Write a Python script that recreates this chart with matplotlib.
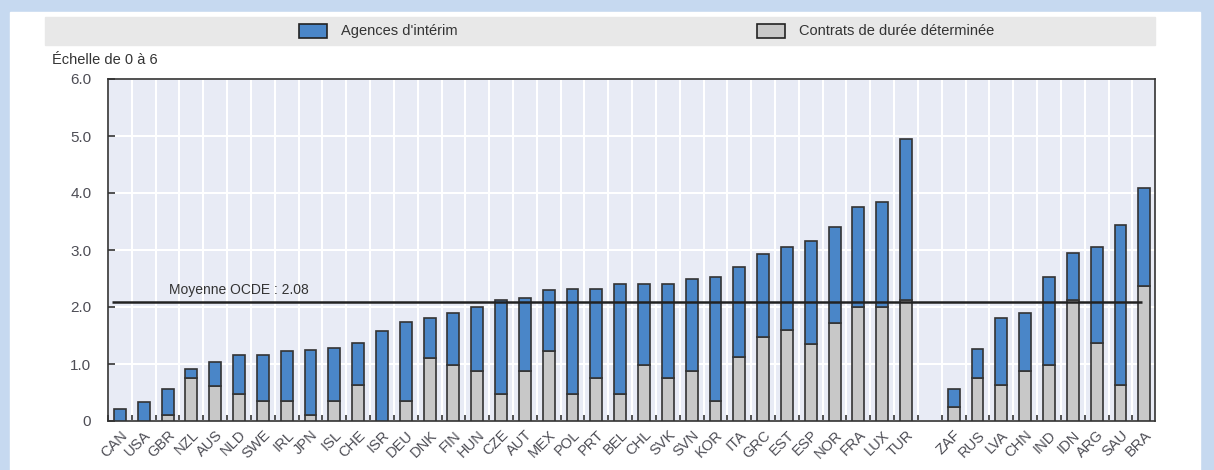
import numpy as np
import matplotlib.pyplot as plt
from matplotlib.patches import Rectangle, Patch

plt.rcParams['font.family'] = ['Liberation Sans Narrow', 'Liberation Sans', 'DejaVu Sans']

# Data (scale 0 to 6)
oecd = ["CAN", "USA", "GBR", "NZL", "AUS", "NLD", "SWE", "IRL", "JPN", "ISL", "CHE",
        "ISR", "DEU", "DNK", "FIN", "HUN", "CZE", "AUT", "MEX", "POL", "PRT", "BEL",
        "CHL", "SVK", "SVN", "KOR", "ITA", "GRC", "EST", "ESP", "NOR", "FRA", "LUX", "TUR"]
oecd_total = [0.21, 0.33, 0.56, 0.91, 1.04, 1.16, 1.16, 1.22, 1.25, 1.28, 1.37,
              1.58, 1.74, 1.80, 1.89, 2.00, 2.13, 2.16, 2.29, 2.32, 2.32, 2.40,
              2.40, 2.40, 2.50, 2.53, 2.71, 2.93, 3.05, 3.16, 3.41, 3.75, 3.84, 4.95]
oecd_fixed = [0.0, 0.0, 0.10, 0.75, 0.61, 0.47, 0.35, 0.35, 0.10, 0.35, 0.63,
              0.0, 0.35, 1.11, 0.99, 0.87, 0.47, 0.87, 1.23, 0.47, 0.75, 0.47,
              0.99, 0.75, 0.87, 0.35, 1.12, 1.48, 1.60, 1.35, 1.72, 2.00, 2.00, 2.13]

others = ["ZAF", "RUS", "LVA", "CHN", "IND", "IDN", "ARG", "SAU", "BRA"]
others_total = [0.57, 1.26, 1.80, 1.89, 2.53, 2.95, 3.05, 3.44, 4.08]
others_fixed = [0.24, 0.76, 0.63, 0.88, 0.99, 2.12, 1.37, 0.63, 2.37]

oecd_mean = 2.08

BLUE = "#4a86c8"
GREY = "#c8c8c8"
TEXT = "#4d4d55"


def main():
    labels = oecd + others
    total = np.array(oecd_total + others_total)
    fixed = np.array(oecd_fixed + others_fixed)
    temp = total - fixed
    pos = np.concatenate([np.arange(len(oecd)), np.arange(len(others)) + len(oecd) + 1])

    fig = plt.figure(figsize=(12.14, 4.70), dpi=100, facecolor="#c6d9f0")
    fig.patches.append(Rectangle((10 / 1214, 0), 1190 / 1214, 458 / 470,
                                 transform=fig.transFigure, color="white", zorder=-2))
    fig.patches.append(Rectangle((45 / 1214, 425 / 470), 1110 / 1214, 28 / 470,
                                 transform=fig.transFigure, color="#e8e8e8", zorder=-1))

    ax = fig.add_axes([108 / 1214, 49 / 470, 1047 / 1214, 342 / 470])
    ax.set_facecolor("#e8ebf5")

    ax.bar(pos, fixed, width=0.5, color=GREY, edgecolor="#333333", linewidth=1.2, zorder=3)
    ax.bar(pos, temp, bottom=fixed, width=0.5, color=BLUE, edgecolor="#333333",
           linewidth=1.2, zorder=3)

    ax.hlines(oecd_mean, pos[0] - 0.35, pos[-1] - 0.1, color="#222222", linewidth=1.8, zorder=4)
    ax.text(pos[1] + 1.05, oecd_mean + 0.1, "Moyenne OCDE : 2.08", fontsize=10,
            color="#333333", va="bottom")

    ax.set_xlim(-0.45, pos[-1] + 0.45)
    ax.set_ylim(0, 6)
    ax.set_yticks(range(7))
    ax.set_yticklabels(["0", "1.0", "2.0", "3.0", "4.0", "5.0", "6.0"])
    ax.set_xticks(pos)
    ax.set_xticklabels(labels, rotation=45, ha="right", rotation_mode="anchor")
    ax.set_xticks(np.arange(-0.5, pos[-1] + 0.5, 1.0), minor=True)

    ax.tick_params(axis="x", which="major", length=0, labelsize=10.5, labelcolor=TEXT, pad=5)
    ax.tick_params(axis="x", which="minor", direction="in", length=4, width=1.2, color="#333333")
    ax.tick_params(axis="y", direction="in", length=5, width=1.2, color="#333333",
                   labelsize=11, labelcolor=TEXT, pad=12)

    ax.grid(True, axis="y", which="major", color="white", linewidth=1.5, zorder=0)
    ax.grid(True, axis="x", which="minor", color="white", linewidth=1.5, zorder=0)
    ax.set_axisbelow(True)
    for side in ["left", "right", "top", "bottom"]:
        ax.spines[side].set_color("#333333")
        ax.spines[side].set_linewidth(1.2)

    fig.text(52 / 1214, 1 - 60 / 470, "Échelle de 0 à 6", fontsize=10.5, color="#333333",
             va="center")

    handles = [Patch(facecolor=BLUE, edgecolor="#222222", linewidth=1.2),
               Patch(facecolor=GREY, edgecolor="#222222", linewidth=1.2)]
    fig.legend(handles, ["Agences d'intérim", "Contrats de durée déterminée"], ncol=2,
               loc="center left", bbox_to_anchor=(286 / 1214, 1 - 31 / 470), frameon=False,
               fontsize=10.5, columnspacing=20.5, handlelength=1.9, handleheight=1.1,
               handletextpad=1.0, labelcolor="#333333")

    fig.savefig("out.png", dpi=100, facecolor=fig.get_facecolor())


if __name__ == "__main__":
    main()
